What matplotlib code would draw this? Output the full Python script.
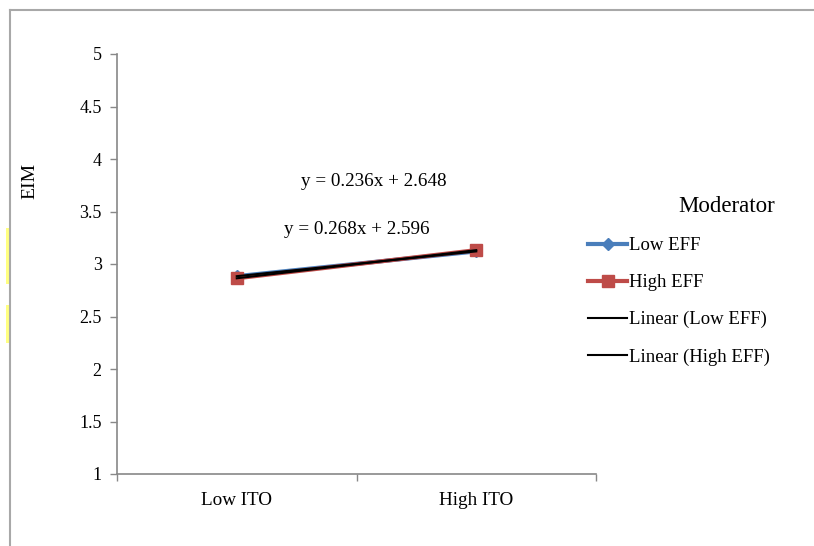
import numpy as np
import matplotlib.pyplot as plt
from matplotlib.lines import Line2D
from matplotlib.patches import Rectangle

plt.rcParams['font.family'] = ['Liberation Serif', 'DejaVu Serif']

# data
categories = ["Low ITO", "High ITO"]
low_eff = [2.884, 3.12]
high_eff = [2.864, 3.132]
y_ticks = [1, 1.5, 2, 2.5, 3, 3.5, 4, 4.5, 5]

fig = plt.figure(figsize=(8.14, 5.46), dpi=100)
ax = fig.add_axes([117 / 814, 1 - 474 / 546, 479 / 814, 420 / 546])

xpos = np.arange(len(categories)) + 0.5

# series
ax.plot(xpos, low_eff, color='#4a7ebb', lw=3, marker='D', ms=6, label='Low EFF', zorder=3)
ax.plot(xpos, high_eff, color='#be4b48', lw=3, marker='s', ms=9, label='High EFF', zorder=3)

# linear trendlines (Excel uses x = 1, 2)
xs = np.arange(1, len(categories) + 1)
fit_low = np.polyfit(xs, low_eff, 1)
fit_high = np.polyfit(xs, high_eff, 1)
ax.plot(xpos, np.polyval(fit_low, xs), color='black', lw=1.5, label='Linear (Low EFF)', zorder=4)
ax.plot(xpos, np.polyval(fit_high, xs), color='black', lw=1.5, label='Linear (High EFF)', zorder=4)

ax.text(1.073, 3.79, "y = %.3fx + %.3f" % tuple(fit_low), ha='center', va='center', fontsize=13.8)
ax.text(1.0, 3.333, "y = %.3fx + %.3f" % tuple(fit_high), ha='center', va='center', fontsize=13.8)

# axes styling
ax.set_xlim(0, len(categories))
ax.set_ylim(1, 5)
ax.set_yticks(y_ticks)
ax.set_yticklabels(['%g' % v for v in y_ticks], fontsize=13)
ax.set_xticks(xpos)
ax.set_xticklabels(categories, fontsize=13.8)
ax.set_xticks(np.arange(len(categories) + 1), minor=True)
ax.tick_params(axis='x', which='major', length=0, pad=13)
ax.tick_params(axis='x', which='minor', length=5, color='#888888', width=1)
ax.tick_params(axis='y', length=5, color='#888888', width=1, pad=6)
for s in ['top', 'right']:
    ax.spines[s].set_visible(False)
for s in ['left', 'bottom']:
    ax.spines[s].set_color('#888888')
    ax.spines[s].set_linewidth(1.2)

fig.text(30 / 814, 1 - 181 / 546, "EIM", rotation=90, ha='center', va='center', fontsize=14)

# legend
fig.legend(loc='upper left', bbox_to_anchor=(588 / 814, 1 - 237 / 546), frameon=False,
           fontsize=13.5, handlelength=2.1, handletextpad=0.1, labelspacing=1.06,
           borderpad=0, borderaxespad=0)
fig.text(727 / 814, 1 - 206 / 546, "Moderator", ha='center', va='center', fontsize=16.5)

# outer frame (left and top only) and yellow marks
fig.add_artist(Line2D([10 / 814, 10 / 814], [0, 1 - 10 / 546], color='#a8a8a8', lw=1.5))
fig.add_artist(Line2D([10 / 814, 1], [1 - 10 / 546, 1 - 10 / 546], color='#a8a8a8', lw=1.5))
fig.add_artist(Rectangle((6 / 814, 1 - 284 / 546), 3 / 814, 56 / 546, color='#ffff80', lw=0))
fig.add_artist(Rectangle((6 / 814, 1 - 343 / 546), 3 / 814, 38 / 546, color='#ffff80', lw=0))

fig.savefig('out.png', dpi=100)
